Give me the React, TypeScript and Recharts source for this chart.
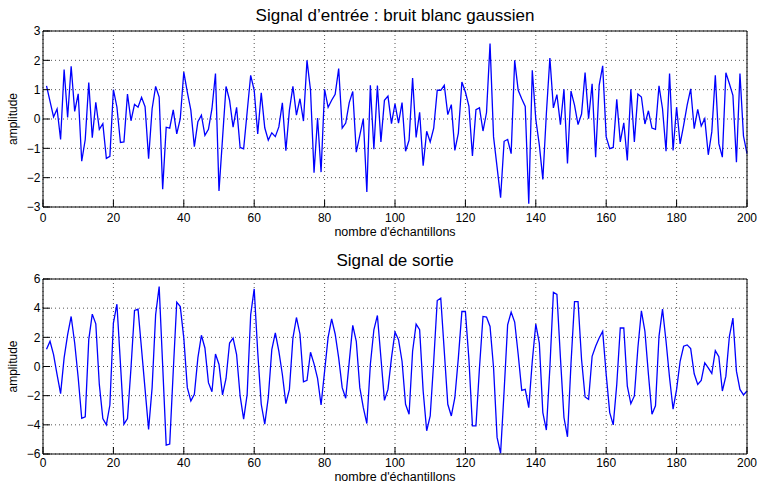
import React from "react";
import { LineChart, Line, XAxis, YAxis, CartesianGrid } from "recharts";

const FONT = "'Liberation Sans', Arial, Helvetica, sans-serif";

const xTicks = [0, 20, 40, 60, 80, 100, 120, 140, 160, 180, 200];
const inputTicks = [-3, -2, -1, 0, 1, 2, 3];
const outputTicks = [-6, -4, -2, 0, 2, 4, 6];

// samples 1..200
const inputSignal = [
  1.13, 0.6, 0.07, 0.34, -0.7, 1.69, 0.05, 1.8, 0.26, 0.86,
  -1.44, -0.7, 1.24, -0.64, 0.57, -0.35, -0.16, -1.34, -1.27, 1.0,
  0.41, -0.8, -0.78, 0.85, -0.06, 0.5, 0.4, 0.74, 0.42, -1.35,
  0.35, 1.11, 0.75, -2.39, -0.28, -0.31, 0.31, -0.51, 0.01, 1.6,
  0.92, 0.3, -0.94, -0.09, 0.13, -0.56, -0.35, 0.35, 1.55, -2.45,
  -0.67, 1.11, 0.64, -0.28, 0.4, -0.97, -1.02, 0.24, 1.49, 0.98,
  -0.51, 0.89, -0.3, -0.72, -0.47, -0.6, -0.27, 0.55, -1.08, 0.3,
  1.11, 0.13, 0.69, -0.07, 2.0, 0.98, -1.83, 0.03, -1.81, 1.01,
  0.4, 0.64, 0.84, 1.72, -0.31, -0.14, 0.56, 0.94, -1.13, -0.56,
  0.01, -2.49, 1.15, -1.03, 1.14, -0.78, 0.64, 0.78, -0.16, 0.52,
  -0.14, 0.56, -1.1, -0.72, 1.4, -0.63, 0.23, -1.59, -0.42, -0.78,
  -0.31, 0.98, 0.98, 1.15, 0.15, 0.49, -1.07, -0.48, 1.26, 0.92,
  0.44, -1.26, 0.32, 0.38, -0.41, 0.22, 2.57, -0.61, -1.64, -2.68,
  -0.76, -0.7, -1.18, 2.0, 0.98, 0.69, 0.43, -2.89, 1.66, -0.01,
  -0.88, -2.06, 0.18, 2.08, 0.38, 0.83, -0.19, 1.01, -1.52, 0.95,
  0.47, -0.19, 0.17, 1.58, 0.01, 1.2, -1.3, 1.15, 1.81, -0.61,
  -1.01, -0.97, 0.67, -0.78, -0.13, -1.41, 1.01, -0.78, 0.85, 0.75,
  -0.17, 0.28, -0.31, -0.35, 1.13, 0.35, -1.1, 1.55, -1.07, 0.41,
  -0.85, -0.22, 0.47, 1.03, -0.33, 0.33, -0.24, 0.01, -1.22, -0.44,
  1.49, -0.84, -1.3, 1.58, 1.2, 0.81, -1.47, 1.55, -0.58, -1.18,
];

const outputSignal = [
  1.18, 1.73, 0.82, -0.55, -1.86, 0.59, 2.18, 3.43, 1.61, -0.77,
  -3.55, -3.45, 1.84, 3.59, 2.93, -1.23, -3.57, -4.0, -2.64, 2.98,
  4.27, 0.2, -3.95, -3.57, -0.09, 3.84, 3.93, 1.18, -1.57, -4.32,
  -1.45, 3.55, 5.48, 0.05, -5.39, -5.32, -0.32, 4.41, 4.11, 1.95,
  -1.45, -2.36, -1.91, 0.59, 2.14, 1.27, -1.11, -1.73, 0.86, 0.14,
  -1.95, -0.82, 1.61, 1.95, 0.82, -2.02, -3.61, -1.91, 3.55, 5.32,
  1.0, -2.59, -3.95, -2.14, 1.16, 2.3, 1.05, -0.55, -2.55, -1.57,
  1.95, 3.36, 2.23, -1.05, -0.95, 0.98, 0.18, -0.82, -2.64, -0.32,
  2.0, 3.27, 2.23, 0.59, -1.45, -2.18, 0.32, 2.82, 1.73, -1.45,
  -2.82, -3.91, 0.14, 2.52, 3.5, 0.6, -2.32, -1.57, 0.59, 2.36,
  1.84, 0.36, -2.59, -3.27, 1.05, 2.91, 2.52, -1.68, -4.41, -3.39,
  0.36, 4.52, 4.68, 1.05, -2.59, -3.39, -2.14, 0.59, 3.77, 3.77,
  0.48, -4.07, -4.07, -0.09, 3.43, 3.39, 2.75, -0.09, -4.86, -5.95,
  -1.68, 2.86, 3.73, 3.05, 0.82, -1.64, -1.57, -2.82, 0.36, 2.91,
  1.61, -3.16, -4.36, -0.09, 5.09, 4.95, 0.59, -3.5, -4.82, 0.2,
  4.45, 4.45, 0.48, -2.09, -2.25, 0.7, 1.39, 1.95, 2.41, -0.55,
  -3.16, -4.0, -1.23, 2.64, 2.64, -1.34, -2.55, -2.02, 1.27, 3.82,
  2.41, -0.55, -3.27, -2.7, 2.07, 3.93, 1.73, -0.77, -2.93, -1.57,
  0.36, 1.39, 1.48, 1.23, -0.5, -1.23, -0.95, 0.25, -0.09, -0.48,
  1.09, 0.68, -1.68, -0.66, 2.07, 3.32, -0.32, -1.57, -1.95, -1.68,
];

const inputData = inputSignal.map((v, i) => ({ n: i + 1, v }));
const outputData = outputSignal.map((v, i) => ({ n: i + 1, v }));

const minus = (v: number) => String(v).replace("-", "\u2212");
const tickStyle = { fontSize: 12, fill: "#000", fontFamily: FONT };
const black = { stroke: "#000", strokeWidth: 1 };

function axes(yTicks: number[], xHeight: number, xMargin: number) {
  const domain: [number, number] = [yTicks[0], yTicks[yTicks.length - 1]];
  return [
    <XAxis
      key="xb"
      dataKey="n"
      type="number"
      domain={[0, 200]}
      ticks={xTicks}
      interval={0}
      height={xHeight}
      tick={tickStyle}
      tickSize={-7}
      tickMargin={xMargin}
      axisLine={black}
      tickLine={black}
    />,
    <XAxis
      key="xt"
      xAxisId="top"
      orientation="top"
      dataKey="n"
      type="number"
      domain={[0, 200]}
      ticks={xTicks}
      interval={0}
      height={1}
      tick={false}
      tickSize={-7}
      axisLine={black}
      tickLine={black}
    />,
    <YAxis
      key="yl"
      type="number"
      domain={domain}
      ticks={yTicks}
      interval={0}
      width={43}
      tick={tickStyle}
      tickFormatter={minus}
      tickSize={-7}
      tickMargin={9.5}
      axisLine={black}
      tickLine={black}
    />,
    <YAxis
      key="yr"
      yAxisId="right"
      orientation="right"
      type="number"
      domain={domain}
      ticks={yTicks}
      interval={0}
      width={1}
      tick={false}
      tickSize={-7}
      axisLine={black}
      tickLine={black}
    />,
  ];
}

export default function App() {
  return (
    <div
      style={{
        position: "absolute",
        left: 0,
        top: 0,
        width: 758,
        height: 486,
        background: "#fff",
        fontFamily: FONT,
      }}
    >
      <div style={{ position: "absolute", left: 0, top: 0 }}>
        <LineChart
          width={758}
          height={245}
          data={inputData}
          margin={{ top: 30, right: 10, bottom: 0, left: 0 }}
        >
          <CartesianGrid stroke="#555" strokeDasharray="1 3" />
          {axes(inputTicks, 38, 13.3)}
          <Line
            dataKey="v"
            stroke="#0000ff"
            strokeWidth={1.3}
            dot={false}
            isAnimationActive={false}
          />
        </LineChart>
      </div>
      <div style={{ position: "absolute", left: 0, top: 245 }}>
        <LineChart
          width={758}
          height={241}
          data={outputData}
          margin={{ top: 33, right: 10, bottom: 0, left: 0 }}
        >
          <CartesianGrid stroke="#555" strokeDasharray="1 3" />
          {axes(outputTicks, 32, 11.3)}
          <Line
            dataKey="v"
            stroke="#0000ff"
            strokeWidth={1.3}
            dot={false}
            isAnimationActive={false}
          />
        </LineChart>
      </div>
      <svg
        width={758}
        height={486}
        style={{ position: "absolute", left: 0, top: 0, pointerEvents: "none" }}
        fontFamily={FONT}
        fill="#000"
      >
        <text x={395} y={21} fontSize={17} textAnchor="middle">
          Signal d’entrée : bruit blanc gaussien
        </text>
        <text x={395} y={236} fontSize={12.5} textAnchor="middle">
          nombre d'échantillons
        </text>
        <text x={16.5} y={119} fontSize={12} textAnchor="middle" transform="rotate(-90 16.5 119)">
          amplitude
        </text>
        <text x={395} y={266} fontSize={17} textAnchor="middle">
          Signal de sortie
        </text>
        <text x={395} y={481} fontSize={12.5} textAnchor="middle">
          nombre d'échantillons
        </text>
        <text x={16.5} y={366.5} fontSize={12} textAnchor="middle" transform="rotate(-90 16.5 366.5)">
          amplitude
        </text>
      </svg>
    </div>
  );
}
